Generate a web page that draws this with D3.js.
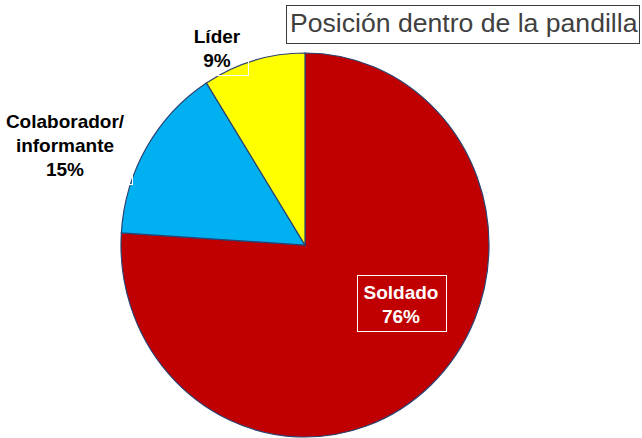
<!DOCTYPE html>
<html>
<head>
<meta charset="utf-8">
<script src="https://cdn.jsdelivr.net/npm/d3@7"></script>
<style>
  body { margin: 0; background: #fff; }
  svg { display: block; }
</style>
</head>
<body>
<div id="chart"></div>
<script>
const title = 'Posición dentro de la pandilla';
const categories = ['Soldado', 'Colaborador/informante', 'Líder'];
const values = [76, 15, 9];
const colors = ['#C00000', '#00B0F0', '#FFFF00'];

const width = 642;
const height = 438;
const cx = 305, cy = 245;
const rx = 184, ry = 192;

// where each label block sits (center x, first baseline)
const labelLayout = {
  'Soldado': { x: 401, y: 299, fill: '#fff' },
  'Colaborador/informante': { x: 65, y: 128, fill: '#000' },
  'Líder': { x: 217, y: 43, fill: '#000' }
};

const svg = d3.select('#chart')
  .append('svg')
  .attr('width', width)
  .attr('height', height);

const data = categories.map((c, i) => ({ label: c, value: values[i], color: colors[i] }));

const pie = d3.pie()
  .sort(null)
  .value(d => d.value);

const arc = d3.arc()
  .innerRadius(0)
  .outerRadius(rx);

const g = svg.append('g')
  .attr('transform', `translate(${cx},${cy}) scale(1,${ry / rx})`);

g.selectAll('path.slice')
  .data(pie(data))
  .enter()
  .append('path')
  .attr('class', 'slice')
  .attr('d', arc)
  .attr('fill', d => d.data.color)
  .attr('stroke', '#2A4272')
  .attr('stroke-width', 1.2)
  .attr('vector-effect', 'non-scaling-stroke');

// labels
const labels = svg.selectAll('g.lbl')
  .data(data)
  .enter()
  .append('g')
  .attr('class', 'lbl');

labels.each(function(d) {
  const pos = labelLayout[d.label];
  const lines = d.label.replace('/', '/\n').split('\n').concat([d.value + '%']);
  const t = d3.select(this).append('text')
    .attr('text-anchor', 'middle')
    .style('font-family', 'Arial, "Liberation Sans", sans-serif')
    .style('font-weight', 'bold')
    .style('font-size', '19px')
    .style('fill', pos.fill);
  lines.forEach((ln, i) => {
    t.append('tspan')
      .attr('x', pos.x)
      .attr('y', pos.y + i * 24)
      .text(ln);
  });
  const bb = t.node().getBBox();
  d3.select(this).insert('rect', 'text')
    .attr('x', Math.round(bb.x - 7) + 0.5)
    .attr('y', Math.round(bb.y - 7) + 0.5)
    .attr('width', Math.round(bb.width + 14))
    .attr('height', Math.round(bb.height + 11))
    .attr('fill', 'none')
    .attr('stroke', '#fff')
    .attr('stroke-width', 1);
});

// title box
svg.append('rect')
  .attr('x', 286.5)
  .attr('y', 5.5)
  .attr('width', 353)
  .attr('height', 38)
  .attr('fill', '#fff')
  .attr('stroke', '#3a3a3a')
  .attr('stroke-width', 1);

svg.append('text')
  .attr('x', 290)
  .attr('y', 32)
  .style('font-family', 'Arial, "Liberation Sans", sans-serif')
  .style('font-size', '26.6px')
  .style('fill', '#404040')
  .text(title);
</script>
</body>
</html>
